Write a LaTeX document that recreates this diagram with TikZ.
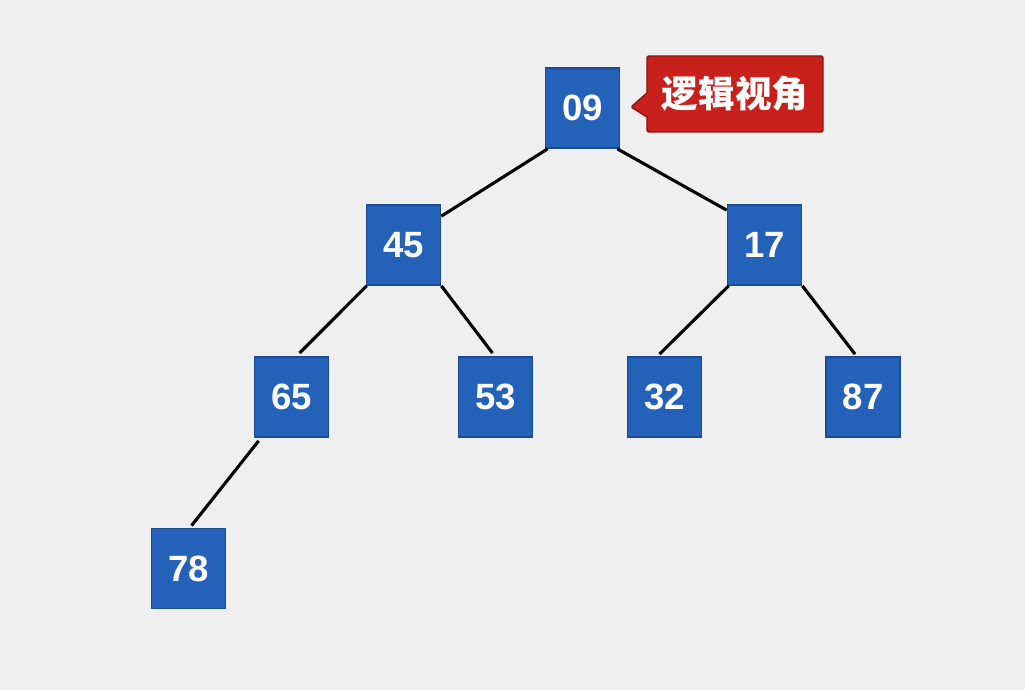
\documentclass[tikz,border=0pt]{standalone}
\usepackage{fontspec}
\setmainfont{Liberation Sans}
\newfontfamily\cjk{Noto Sans CJK SC}
\usetikzlibrary{shapes.callouts}
\definecolor{bg}{HTML}{EFEFEF}
\definecolor{boxfill}{HTML}{2462BA}
\definecolor{boxline}{HTML}{1A4C96}
\definecolor{tagfill}{HTML}{C8201B}
\definecolor{tagline}{HTML}{8E1410}
\tikzset{
  keybox/.style={rectangle, draw=boxline, line width=1.2pt, fill=boxfill,
    minimum width=1.85cm, minimum height=2.0cm, inner sep=0pt,
    text=white, font=\bfseries\fontsize{26}{26}\selectfont},
  link/.style={draw=black, line width=2.2pt},
  tag/.style={rectangle callout, draw=tagline, line width=1pt, fill=tagfill,
    minimum width=4.4cm, minimum height=1.9cm, inner sep=0pt,
    rounded corners=1.5pt, callout pointer width=0.6cm,
    text=white, font=\cjk\bfseries\fontsize{26}{26}\selectfont}
}
\begin{document}
\begin{tikzpicture}[x=0.025cm, y=-0.025cm]
\fill[bg] (0,0) rectangle (1025,690);
\useasboundingbox (0,0) rectangle (1025,690);

\node[keybox] (n09) at (582.5,108) {09};
\node[keybox] (n45) at (403.5,245) {45};
\node[keybox] (n17) at (764.5,245) {17};
\node[keybox] (n65) at (291.5,397) {65};
\node[keybox] (n53) at (495.5,397) {53};
\node[keybox] (n32) at (664.5,397) {32};
\node[keybox] (n87) at (863,397) {87};
\node[keybox] (n78) at (188.5,568.5) {78};

\coordinate (tip) at (631,107);
\node[tag, callout absolute pointer={(tip)}] (lbl) at (735,94) {逻辑视角};

\draw[link] ([shift={(3,0)}]n09.south west) -- ([shift={(0,12)}]n45.north east);
\draw[link] ([shift={(-3,0)}]n09.south east) -- ([shift={(0,6)}]n17.north west);
\draw[link] ([shift={(1,0)}]n45.south west) -- ([shift={(8,-3)}]n65.north);
\draw[link] ([shift={(0,0)}]n45.south east) -- ([shift={(-3,-3)}]n53.north);
\draw[link] ([shift={(2,0)}]n17.south west) -- ([shift={(-5,-2)}]n32.north);
\draw[link] ([shift={(0,0)}]n17.south east) -- ([shift={(-8,-2)}]n87.north);
\draw[link] ([shift={(5,3)}]n65.south west) -- ([shift={(3,-2)}]n78.north);
\end{tikzpicture}
\end{document}
